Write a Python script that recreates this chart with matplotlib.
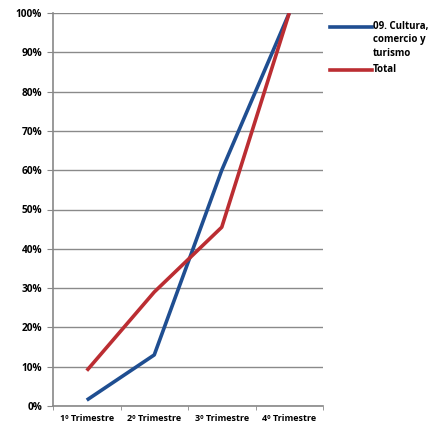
import matplotlib
matplotlib.use("Agg")
import matplotlib.pyplot as plt
from matplotlib.lines import Line2D

plt.rcParams['font.family'] = ['Open Sans', 'DejaVu Sans']

trimestres = ["1º Trimestre", "2º Trimestre", "3º Trimestre", "4º Trimestre"]
cultura = [1.5, 13, 60, 100]
total = [9, 29, 45.5, 100]
series_names = ["09. Cultura,\ncomercio y\nturismo", "Total"]
colores = ["#1f4e91", "#bb2d32"]
yticks = [0, 10, 20, 30, 40, 50, 60, 70, 80, 90, 100]

fig = plt.figure(figsize=(4.32, 4.30), dpi=100)
ax = fig.add_axes([53 / 432, 1 - 406 / 430, 270 / 432, 393 / 430])

x = list(range(1, len(trimestres) + 1))
ax.plot(x, cultura, color=colores[0], lw=2.6, solid_capstyle="butt", zorder=3)
ax.plot(x, total, color=colores[1], lw=2.6, solid_capstyle="butt", zorder=3)

ax.set_xlim(0.5, len(trimestres) + 0.5)
ax.set_ylim(0, 100)
ax.set_yticks(yticks)
ax.set_yticklabels([f"{v}%" for v in yticks], fontsize=7.3, fontweight="bold")
ax.set_xticks(x)
ax.set_xticklabels(trimestres, fontsize=6.5, fontweight="bold")
ax.set_xticks([i + 0.5 for i in range(len(trimestres) + 1)], minor=True)
ax.tick_params(axis="x", which="major", length=0, pad=6)
ax.tick_params(axis="x", which="minor", length=3, color="#888888")
ax.tick_params(axis="y", length=4, color="#888888", pad=4)

ax.grid(axis="y", color="#8a8a8a", lw=1.0)
ax.set_axisbelow(True)
for s in ["top", "right"]:
    ax.spines[s].set_visible(False)
for s in ["left", "bottom"]:
    ax.spines[s].set_color("#888888")
    ax.spines[s].set_linewidth(1.2)

# leyenda a la derecha
leg_y = [1 - 27 / 430, 1 - 70 / 430]
for name, c, yy in zip(series_names, colores, leg_y):
    fig.add_artist(Line2D([330 / 432, 372 / 432], [yy, yy], color=c, lw=2.6,
                          transform=fig.transFigure))
    fig.text(373 / 432, yy + 0.015, name, fontsize=7, fontweight="bold",
             va="top", ha="left", linespacing=1.35)

fig.savefig("out.png", dpi=100)
